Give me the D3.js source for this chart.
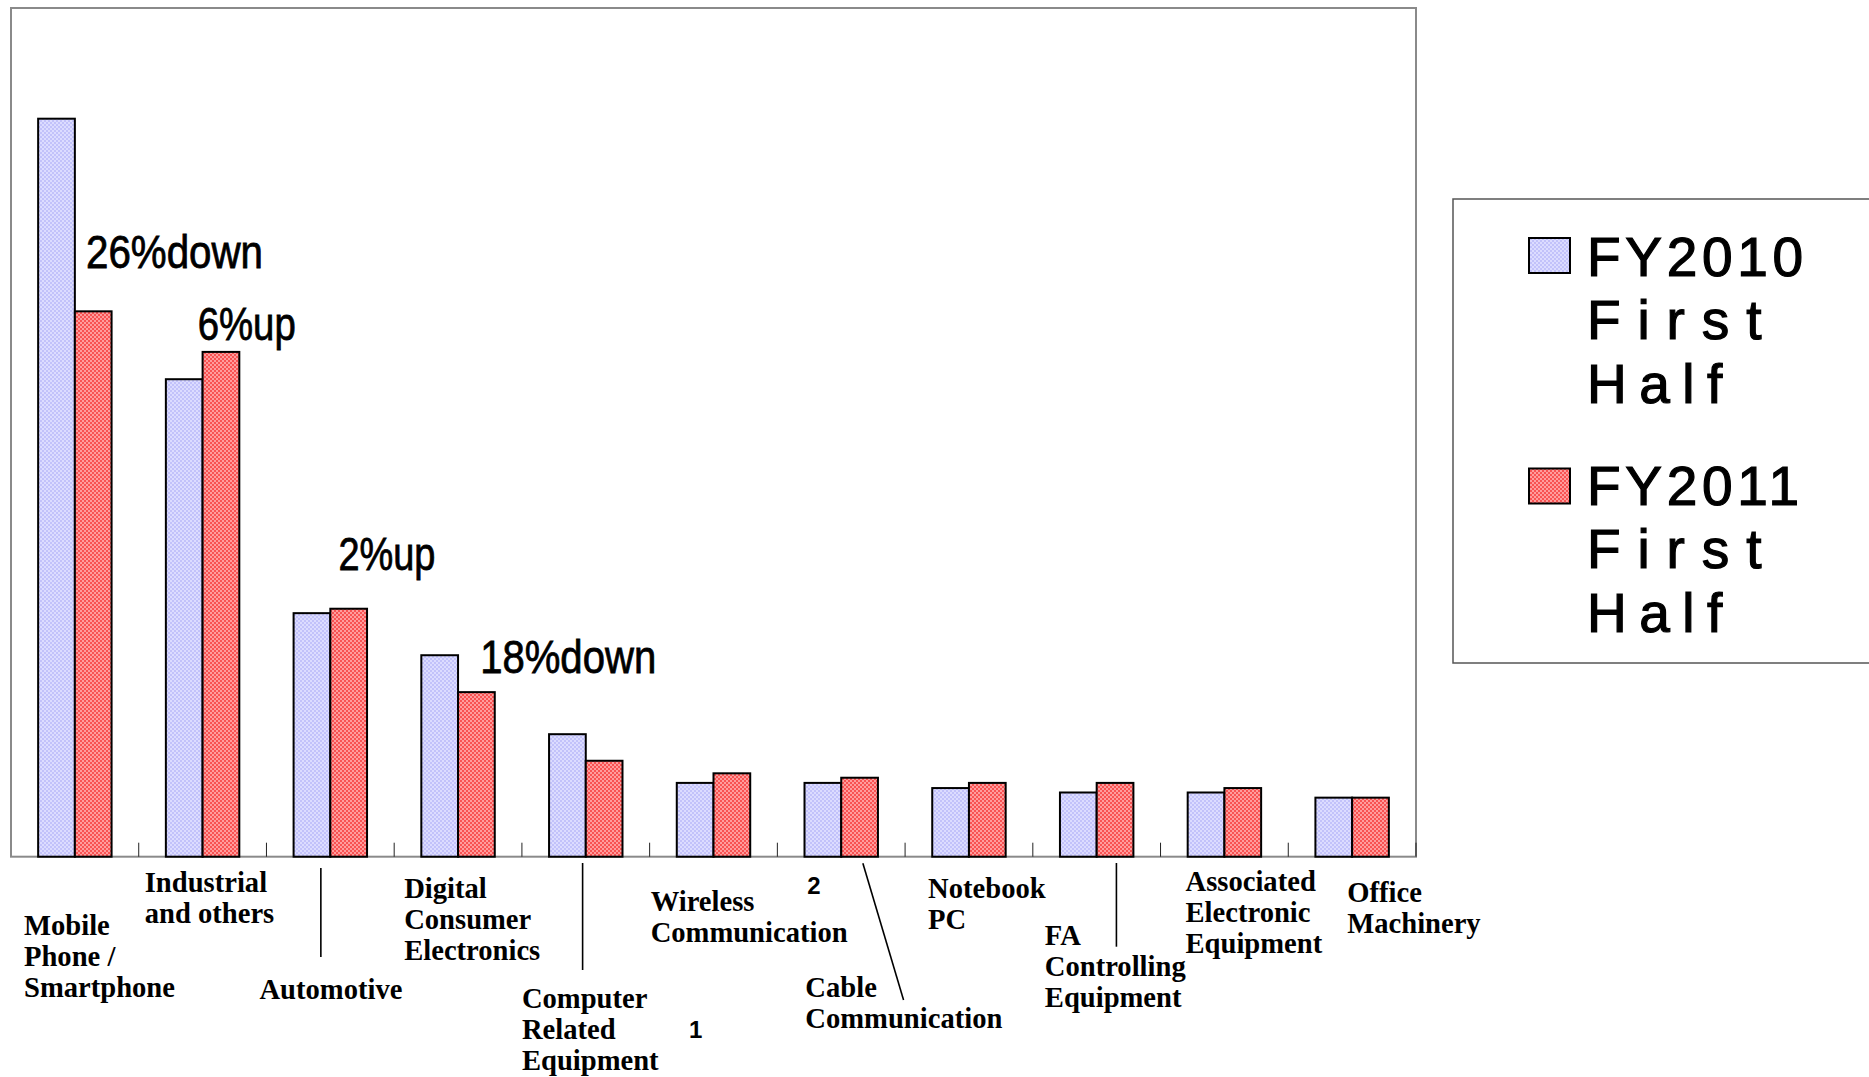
<!DOCTYPE html>
<html><head><meta charset="utf-8">
<script src="https://cdn.jsdelivr.net/npm/d3@7"></script>
<style>body{margin:0;background:#fff}</style>
</head><body><svg id="c" width="1869" height="1077"></svg>
<script>
// ---------- data ----------
const categories = ["Mobile|Phone /|Smartphone","Industrial|and others","Automotive","Digital|Consumer|Electronics","Computer|Related|Equipment","Wireless|Communication","Cable|Communication","Notebook|PC","FA|Controlling|Equipment","Associated|Electronic|Equipment","Office|Machinery"];
const series = ["FY2010 First Half","FY2011 First Half"];
const fy2010 = [100, 64.7, 33.0, 27.3, 16.6, 10.0, 10.0, 9.3, 8.7, 8.7, 8.0];
const fy2011 = [73.9, 68.4, 33.6, 22.3, 13.0, 11.3, 10.7, 10.0, 10.0, 9.3, 8.0];
const changeCats = [0, 1, 2, 3];
const changeLabels = ["26%down","6%up","2%up","18%down"];
const footnoteLabels = ["1","2"];

// ---------- layout ----------
const svg = d3.select("#c");
const plot = {left:11, right:1416, top:8, bottom:856.7};
const x0 = d3.scaleBand().domain(d3.range(categories.length)).range([plot.left, plot.right]).paddingInner(0.425).paddingOuter(0.2125);
const x1 = d3.scaleBand().domain([0,1]).range([0, x0.bandwidth()]);
const y = d3.scaleLinear().domain([0,115]).range([plot.bottom, plot.top]);
const step = x0.step();
const bandStart = i => plot.left + i*step;

const defs = svg.append("defs");
function checker(id, base, dark){
  const p = defs.append("pattern").attr("id",id).attr("patternUnits","userSpaceOnUse").attr("width",4).attr("height",4);
  p.append("rect").attr("width",4).attr("height",4).attr("fill",base);
  p.append("rect").attr("x",0).attr("y",0).attr("width",2).attr("height",2).attr("fill",dark);
  p.append("rect").attr("x",2).attr("y",2).attr("width",2).attr("height",2).attr("fill",dark);
}
checker("pBlue","#dcdcff","#c2c2fa");
checker("pRed","#ff9c9c","#f85252");
const fills = ["url(#pBlue)","url(#pRed)"];

// frame
svg.append("rect").attr("x",plot.left).attr("y",plot.top).attr("width",plot.right-plot.left).attr("height",plot.bottom-plot.top)
  .attr("fill","none").attr("stroke","#8a8a8a").attr("stroke-width",2);

// boundary ticks
svg.append("g").selectAll("line").data(d3.range(1, categories.length+1)).join("line")
  .attr("x1",i=>bandStart(i)).attr("x2",i=>bandStart(i))
  .attr("y1",plot.bottom-14).attr("y2",plot.bottom)
  .attr("stroke","#222").attr("stroke-width",1);

// bars
const vals = [fy2010, fy2011];
const g = svg.append("g");
categories.forEach((c,i)=>{
  [0,1].forEach(s=>{
    g.append("rect")
      .attr("x", x0(i)+x1(s)).attr("width", x1.bandwidth())
      .attr("y", y(vals[s][i])).attr("height", y(0)-y(vals[s][i]))
      .attr("fill", fills[s]).attr("stroke","#000").attr("stroke-width",2);
  });
});

// change annotations
const annLayout = [{dx:75, dy:-43, w:177},{dx:59, dy:-12, w:98},{dx:72, dy:-39, w:97},{dx:86, dy:-19.5, w:176}];
changeCats.forEach((ci,k)=>{
  svg.append("text")
    .attr("x", bandStart(ci)+annLayout[k].dx)
    .attr("y", y(fy2011[ci])+annLayout[k].dy)
    .attr("font-family","'Liberation Sans Narrow','Liberation Sans',Arial,sans-serif")
    .attr("font-size",47)
    .attr("textLength",annLayout[k].w).attr("lengthAdjust","spacingAndGlyphs")
    .attr("fill","#000").attr("stroke","#000").attr("stroke-width",0.8).text(changeLabels[k]);
});

// category labels
const labelLayout = [
  {dx:13, y:935}, {dx:6, y:892.3}, {dx:-7, y:999.3}, {dx:10, y:897.7}, {dx:0, y:1008.3},
  {dx:1, y:910.7}, {dx:28, y:996.7}, {dx:23, y:898.3}, {dx:12, y:945}, {dx:25, y:890.7}, {dx:59, y:901.7}
];
const lab = svg.append("g").attr("font-family","'Liberation Serif','Times New Roman',serif").attr("font-weight","bold").attr("font-size",28.6).attr("fill","#000");
categories.forEach((c,i)=>{
  const t = lab.append("text").attr("x", bandStart(i)+labelLayout[i].dx).attr("y", labelLayout[i].y);
  c.split("|").forEach((line,j)=>{
    t.append("tspan").attr("x", bandStart(i)+labelLayout[i].dx).attr("y", labelLayout[i].y + j*31).text(line);
  });
});

// leader lines
const leaders = [
  {i:2, x1:54.4, y1:868, x2:54.4, y2:957},
  {i:4, x1:60.7, y1:863, x2:60.7, y2:970},
  {i:6, x1:85.5, y1:863.3, x2:126.2, y2:1000},
  {i:8, x1:83.6, y1:863, x2:83.6, y2:946.7}
];
svg.append("g").selectAll("line").data(leaders).join("line")
  .attr("x1",d=>bandStart(d.i)+d.x1).attr("x2",d=>bandStart(d.i)+d.x2)
  .attr("y1",d=>d.y1).attr("y2",d=>d.y2)
  .attr("stroke","#000").attr("stroke-width",1.6);

// footnote markers
const fnLayout = [{i:4, dx:167, y:1038.3},{i:5, dx:157.5, y:894.3}];
footnoteLabels.forEach((f,k)=>{
  svg.append("text").attr("x", bandStart(fnLayout[k].i)+fnLayout[k].dx).attr("y", fnLayout[k].y)
    .attr("font-family","'Liberation Sans',Arial,sans-serif").attr("font-weight","bold").attr("font-size",24)
    .attr("fill","#000").text(f);
});

// legend
svg.append("rect").attr("x",1453).attr("y",199).attr("width",500).attr("height",464)
  .attr("fill","#fff").attr("stroke","#555").attr("stroke-width",1.5);
const legLines = [["FY2010","First","Half"],["FY2011","First","Half"]];
const legSpacing = [4.7, 16.9, 12.5];
const legTop = [238, 468.5];
const legBase = [275.5, 504.5];
series.forEach((s,k)=>{
  svg.append("rect").attr("x",1529).attr("y",legTop[k]).attr("width",41).attr("height",35)
    .attr("fill",fills[k]).attr("stroke","#000").attr("stroke-width",2);
  legLines[k].forEach((ln,j)=>{
    svg.append("text").attr("x",1587).attr("y",legBase[k] + j*63.8)
      .attr("font-family","'Liberation Sans',Arial,sans-serif").attr("font-size",55)
      .attr("letter-spacing",legSpacing[j]).attr("fill","#000")
      .attr("stroke","#000").attr("stroke-width",1.2).text(ln);
  });
});
</script></body></html>
